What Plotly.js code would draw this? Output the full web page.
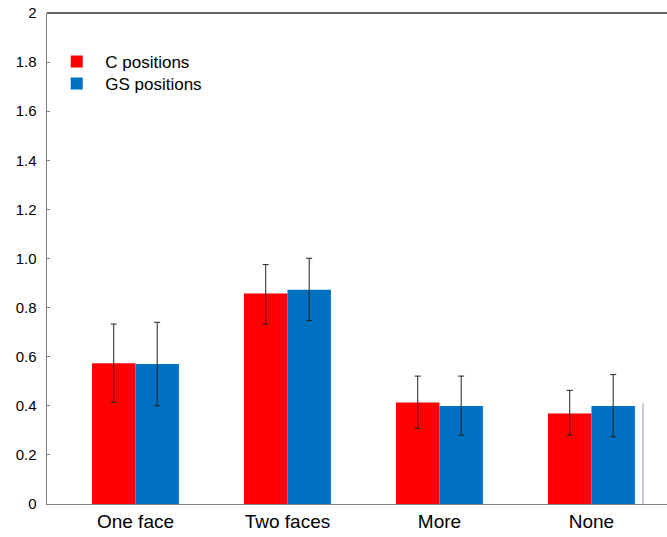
<!DOCTYPE html>
<html><head><meta charset="utf-8">
<script src="https://cdn.plot.ly/plotly-3.0.1.min.js"></script>
<style>html,body{margin:0;padding:0;background:#fff;}#chart{width:667px;height:537px;}</style>
</head><body><div id="chart"></div>
<script>
const categories = ['One face', 'Two faces', 'More', 'None'];
const seriesNames = ['C positions', 'GS positions'];
const cValues = [0.573, 0.857, 0.413, 0.369];
const cErrPlus = [0.160, 0.118, 0.108, 0.094];
const cErrMinus = [0.159, 0.124, 0.105, 0.089];
const gsValues = [0.570, 0.873, 0.399, 0.399];
const gsErrPlus = [0.170, 0.128, 0.122, 0.128];
const gsErrMinus = [0.170, 0.126, 0.119, 0.125];
const yTickVals = [0, 0.2, 0.4, 0.6, 0.8, 1.0, 1.2, 1.4, 1.6, 1.8, 2];
const yTickText = ['0', '0.2', '0.4', '0.6', '0.8', '1.0', '1.2', '1.4', '1.6', '1.8', '2'];

const font = "Liberation Sans, Arial, sans-serif";
const errStyle = {type: 'data', symmetric: false, color: '#222222', thickness: 1, width: 3};

const traces = [
  {type: 'bar', name: seriesNames[0], x: categories, y: cValues, legend: 'legend',
   marker: {color: '#FF0000', line: {width: 0}},
   error_y: Object.assign({array: cErrPlus, arrayminus: cErrMinus}, errStyle)},
  {type: 'bar', name: seriesNames[1], x: categories, y: gsValues, legend: 'legend2',
   marker: {color: '#0070C0', line: {width: 0}},
   error_y: Object.assign({array: gsErrPlus, arrayminus: gsErrMinus}, errStyle)}
];

const legendBase = {xanchor: 'left', yanchor: 'top', font: {family: font, size: 17, color: '#000'},
                    bgcolor: 'rgba(0,0,0,0)', itemwidth: 47, tracegroupgap: 0};

const layout = {
  width: 667, height: 537,
  margin: {l: 47, r: 0, t: 13, b: 33, pad: 0},
  paper_bgcolor: '#ffffff', plot_bgcolor: '#ffffff',
  font: {family: font, color: '#000000', size: 15},
  barmode: 'group', bargap: 0.428, bargroupgap: 0,
  showlegend: true,
  legend: Object.assign({x: 0.002, y: 0.937}, legendBase),
  legend2: Object.assign({x: 0.002, y: 0.892}, legendBase),
  xaxis: {type: 'category', range: [-0.582, 3.497], showline: true, linecolor: '#808080', linewidth: 1,
          ticks: '', showgrid: false, zeroline: false, tickfont: {size: 19, family: font}},
  yaxis: {range: [0, 2], tickvals: yTickVals, ticktext: yTickText, showline: true,
          linecolor: '#808080', linewidth: 1.5, ticks: 'inside', ticklen: 3, tickcolor: '#808080',
          showgrid: false, zeroline: false, tickfont: {size: 15, family: font}, ticklabelstandoff: 6},
  shapes: [
    {type: 'line', xref: 'paper', yref: 'paper', x0: 0, x1: 1, y0: 1, y1: 1,
     line: {color: '#333333', width: 1.5}},
    {type: 'line', xref: 'x', yref: 'y', x0: 3.339, x1: 3.339, y0: 0, y1: 0.41,
     line: {color: '#b8bcc8', width: 1.5}}]
};

Plotly.newPlot('chart', traces, layout, {displayModeBar: false, staticPlot: true});
</script></body></html>
